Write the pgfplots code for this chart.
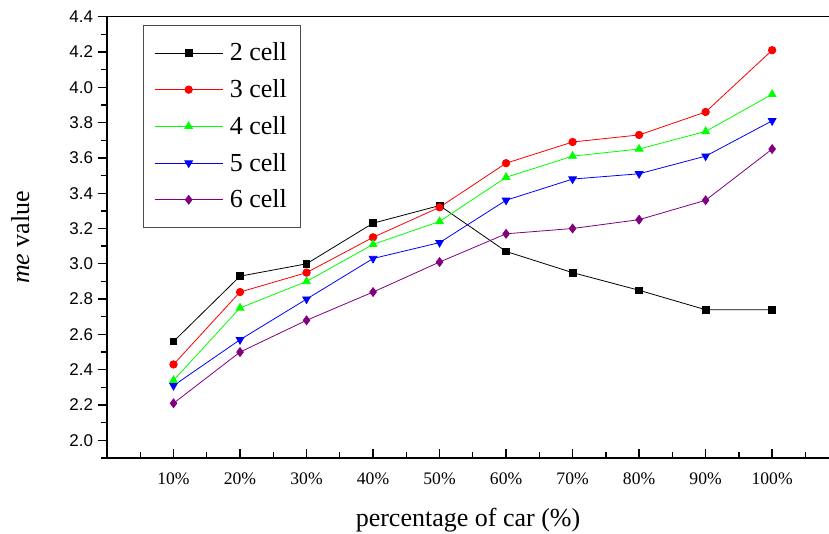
\documentclass[border=0pt]{standalone}
\usepackage{fontspec}
\setmainfont{Liberation Serif}
\newfontfamily\arialf{Liberation Sans}
\usepackage{pgfplots}
\pgfplotsset{compat=1.18}
\definecolor{mypurple}{RGB}{128,0,128}
\begin{document}
\begin{tikzpicture}
\begin{axis}[name=ax,
  scale only axis, width=541.5pt, height=331pt,
  xmin=0, xmax=10.855, ymin=1.9, ymax=4.4,
  axis x line=box, axis y line=left,
  axis line style={-, line width=1.1pt},
  y axis line style={-},
  xtick pos=bottom,
  xtick={1,...,10},
  xticklabels={10\%,20\%,30\%,40\%,50\%,60\%,70\%,80\%,90\%,100\%},
  minor xtick={0.5,1.5,...,10.5},
  ytick={2.0,2.2,...,4.41},
  minor ytick={1.9,2.1,...,4.31},
  xtick align=inside, ytick align=outside,
  major tick length=7pt, minor tick length=4.2pt,
  every tick/.style={black, line width=1pt},
  /pgf/number format/assume math mode=true,
  yticklabel={\pgfmathprintnumber[fixed,fixed zerofill,precision=1]{\tick}},
  yticklabel style={font=\arialf\fontsize{12.75}{14}\selectfont},
  xticklabel style={font=\fontsize{13.2}{15}\selectfont, yshift=-7.5pt},
  xlabel={percentage of car (\%)},
  ylabel={\textit{me} value},
  label style={font=\fontsize{19.5}{23}\selectfont},
  ylabel style={yshift=23pt},
  xlabel style={yshift=-10.5pt},
  legend style={at={(0.05,0.981)}, anchor=north west, draw=black!70, line width=0.8pt,
    font=\fontsize{19.5}{23}\selectfont, row sep=8.5pt, inner xsep=8pt, inner ysep=11pt},
  legend cell align=left,
  /tikz/every odd column/.append style={column sep=3pt},
  legend image code/.code={\draw[mark repeat=2,mark phase=2, line width=0.6pt] plot coordinates {(0pt,0pt)(25.5pt,0pt)(51pt,0pt)};},
  every axis plot/.append style={line width=0.6pt},
]
\addplot[black, mark=square*, mark size=2.5pt, mark options={fill=black}] coordinates {
(1,2.56)(2,2.93)(3,3.00)(4,3.23)(5,3.33)(6,3.07)(7,2.95)(8,2.85)(9,2.74)(10,2.74)};
\addlegendentry{2 cell}
\addplot[red, mark=*, mark size=2.8pt, mark options={fill=red}] coordinates {
(1,2.43)(2,2.84)(3,2.95)(4,3.15)(5,3.32)(6,3.57)(7,3.69)(8,3.73)(9,3.86)(10,4.21)};
\addlegendentry{3 cell}
\addplot[green, mark=triangle*, mark size=3.3pt, mark options={fill=green}] coordinates {
(1,2.34)(2,2.75)(3,2.90)(4,3.11)(5,3.24)(6,3.49)(7,3.61)(8,3.65)(9,3.75)(10,3.96)};
\addlegendentry{4 cell}
\addplot[blue, mark=triangle*, mark size=3.3pt, mark options={fill=blue, rotate=180}] coordinates {
(1,2.31)(2,2.57)(3,2.80)(4,3.03)(5,3.12)(6,3.36)(7,3.48)(8,3.51)(9,3.61)(10,3.81)};
\addlegendentry{5 cell}
\addplot[mypurple, mark=diamond*, mark size=3.3pt, mark options={fill=mypurple}] coordinates {
(1,2.21)(2,2.50)(3,2.68)(4,2.84)(5,3.01)(6,3.17)(7,3.20)(8,3.25)(9,3.36)(10,3.65)};
\addlegendentry{6 cell}
\end{axis}
\pgfresetboundingbox
\path[use as bounding box] ([xshift=-80.25pt,yshift=-57pt]ax.south west) rectangle ([yshift=12.5pt]ax.north east);
\end{tikzpicture}
\end{document}
